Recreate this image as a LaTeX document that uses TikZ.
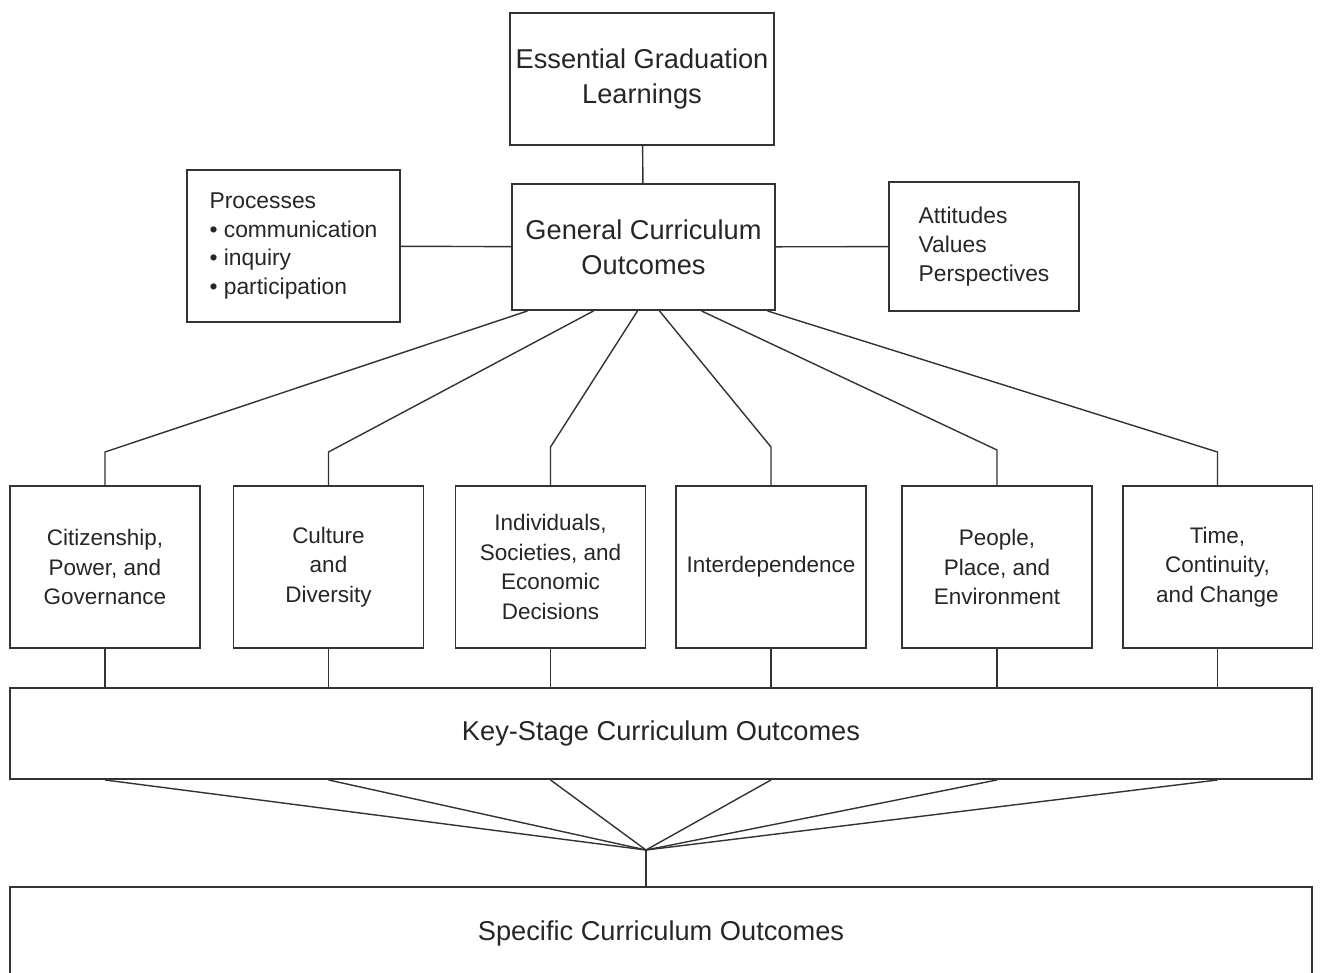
\documentclass[tikz,border=0pt]{standalone}
\usepackage{fontspec}
\setmainfont{Liberation Sans}
\begin{document}
\begin{tikzpicture}
  [x=0.02cm,y=-0.02cm,
   every node/.style={draw=black!80,line width=1.1pt,text=black!85,align=center,inner sep=2pt},
   bigbox/.style={font=\fontsize{15.5}{20}\selectfont},
   areabox/.style={minimum width=3.8cm,minimum height=3.24cm,font=\fontsize{12.8}{16.8}\selectfont},
   sidebox/.style={align=left,font=\fontsize{13}{16.3}\selectfont},
   link/.style={line width=0.8pt,black!80}]
  \useasboundingbox (0,0) rectangle (1321,973);

  \node[bigbox,minimum width=5.28cm,minimum height=2.64cm] (egl) at (642,79) {Essential Graduation\\Learnings};
  \node[bigbox,minimum width=5.26cm,minimum height=2.52cm] (gco) at (643.5,247) {General Curriculum\\Outcomes};
  \node[sidebox,minimum width=4.26cm,minimum height=3.04cm] (proc) at (293.5,246) {Processes\\• communication\\• inquiry\\• participation};
  \node[sidebox,minimum width=3.8cm,minimum height=2.58cm] (att) at (984,246.5) {Attitudes\\Values\\Perspectives};

  \node[areabox] (cit) at (105,567) {Citizenship,\\Power, and\\Governance};
  \node[areabox] (cul) at (328.5,567) {Culture\\and\\Diversity};
  \node[areabox] (ind) at (550.5,567) {Individuals,\\Societies, and\\Economic\\Decisions};
  \node[areabox] (int) at (771,567) {Interdependence};
  \node[areabox] (peo) at (997,567) {People,\\Place, and\\Environment};
  \node[areabox] (tim) at (1217.5,567) {Time,\\Continuity,\\and Change};

  \node[bigbox,minimum width=26.04cm,minimum height=1.82cm] (ksco) at (661,733.5) {Key-Stage Curriculum Outcomes};
  \node[bigbox,minimum width=26.04cm,minimum height=1.86cm] (scol) at (661,933.5) {Specific Curriculum Outcomes};
  \coordinate (hub) at (646,850);

  \draw[link] (egl) -- (gco);
  \draw[link] (proc) -- (gco);
  \draw[link] (gco) -- (att);

  \foreach \area/\dx/\ey in {cit/-116/452,cul/-50/452,ind/-6/447,int/16/447,peo/58/450,tim/124/452}
    \draw[link] ([xshift=\dx*0.02cm]gco.south) -- (\area.north |- 0,\ey) -- (\area.north);

  \foreach \area in {cit,cul,ind,int,peo,tim}
  {
    \draw[link] (\area.south) -- (\area.south |- ksco.north);
    \draw[link] (\area.south |- ksco.south) -- (hub);
  }
  \draw[link] (hub) -- (hub |- scol.north);

\end{tikzpicture}
\end{document}
